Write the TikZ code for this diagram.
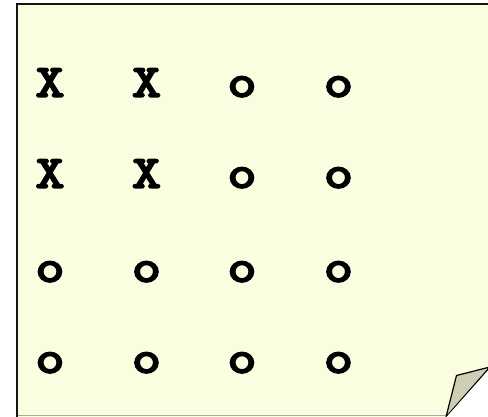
\documentclass[tikz,border=0pt]{standalone}
\usepackage{fontspec}
\newfontfamily\markfont{lmmonolt10-bold.otf}[FakeBold=2.5, FakeStretch=1.2]
\usetikzlibrary{positioning}
\definecolor{cNote}{RGB}{251, 253, 224}
\definecolor{cFold}{RGB}{205, 206, 180}
\definecolor{bNote}{RGB}{20, 20, 20}
\definecolor{bEdge}{RGB}{170, 170, 160}

\begin{document}
\begin{tikzpicture}[
    x=1pt, y=-1pt,
    mark cell/.style={
        font=\markfont\fontsize{47}{47}\selectfont,
        text=black,
        anchor=base,
        inner sep=0pt
    },
    note edge/.style={line width=2pt, color=bNote}
]

\useasboundingbox (0,0) rectangle (488,417);

% Note sheet
\fill[cNote] (16,4) -- (490,4) -- (490,368) -- (446,417) -- (16,417) -- cycle;
\draw[bEdge, line width=1pt] (16,415.5) -- (446,415.5);
\draw[note edge] (17,4) -- (490,4);
\draw[note edge] (17,3) -- (17,417);

% Folded corner
\draw[fill=cFold, line width=1.2pt, line join=miter] (446,417) -- (456.5,375.5) -- (490,367) -- cycle;
\fill[white] (446,417.5) -- (490,368.5) -- (490,417.5) -- cycle;

% Grid of marks
\foreach \row/\ya/\yb/\yc/\yd [count=\r] in {97/X/X/o/o, 188/X/X/o/o, 282/o/o/o/o, 373/o/o/o/o} {
    \node[mark cell] (m\r-1) at (50,\row) {\ya};
    \node[mark cell] (m\r-2) at (146.5,\row) {\yb};
    \node[mark cell] (m\r-3) at (242,\row) {\yc};
    \node[mark cell] (m\r-4) at (338.5,\row) {\yd};
}

\end{tikzpicture}
\end{document}
